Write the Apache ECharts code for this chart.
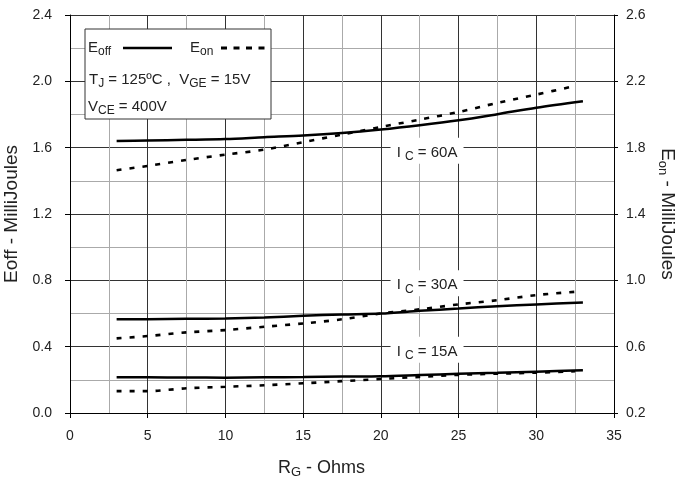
<!DOCTYPE html>
<html>
<head>
<meta charset="utf-8">
<script src="https://cdn.jsdelivr.net/npm/echarts@6/dist/echarts.min.js"></script>
<style>html,body{margin:0;padding:0;background:#fff}#c{width:680px;height:481px}</style>
</head>
<body>
<div id="c"></div>
<script>
// R_G (Ohms) sample points
const rgOff = [3, 5, 7.5, 10, 12.5, 15, 17.5, 20, 22.5, 25, 27.5, 30, 33];
const rgOn  = [3, 5, 7.5, 10, 12.5, 15, 17.5, 20, 22.5, 25, 27.5, 30, 32.5];
// Eoff (left axis, mJ)
const eoff60 = [1.640, 1.643, 1.647, 1.652, 1.663, 1.673, 1.688, 1.709, 1.735, 1.765, 1.802, 1.841, 1.880];
const eoff30 = [0.566, 0.566, 0.568, 0.570, 0.576, 0.586, 0.594, 0.600, 0.616, 0.630, 0.644, 0.655, 0.667];
const eoff15 = [0.215, 0.215, 0.214, 0.213, 0.215, 0.217, 0.220, 0.222, 0.229, 0.236, 0.242, 0.249, 0.258];
// Eon (right axis, mJ)
const eon60 = [1.664, 1.690, 1.726, 1.758, 1.788, 1.833, 1.879, 1.925, 1.969, 2.015, 2.070, 2.120, 2.172];
const eon30 = [0.650, 0.664, 0.686, 0.700, 0.720, 0.740, 0.765, 0.800, 0.825, 0.855, 0.880, 0.911, 0.931];
const eon15 = [0.332, 0.332, 0.349, 0.358, 0.367, 0.379, 0.392, 0.405, 0.418, 0.430, 0.437, 0.443, 0.452];
// current labels: [RG, Eoff-axis value, text]
const icLabels = [[23.1, 1.6, '60A'], [23.1, 0.8, '30A'], [23.1, 0.4, '15A']];
// axis ticks
const xTicks = {min: 0, max: 35, step: 5};
const yLeftTicks = {min: 0, max: 2.4, step: 0.4};
const yRightTicks = {min: 0.2, max: 2.6, step: 0.4};

const FONT = "'Liberation Sans', Arial, sans-serif";
const TXT = '#222';
const pair = (xs, ys) => xs.map((x, i) => [x, ys[i]]);

const solid = (name, xs, ys) => ({
  name, type: 'line', yAxisIndex: 0, data: pair(xs, ys), smooth: 0.3,
  symbol: 'none', lineStyle: {color: '#000', width: 2.5}, z: 3
});
const dashed = (name, xs, ys) => ({
  name, type: 'line', yAxisIndex: 1, data: pair(xs, ys), smooth: 0.3,
  symbol: 'none', lineStyle: {color: '#000', width: 2.6, type: [5, 8]}, z: 3
});
const sub = {fontSize: 12, color: TXT, fill: TXT, fontFamily: FONT, padding: [8, 0, 0, 0]};
const nrm = (s) => ({fontSize: s, color: TXT, fill: TXT, fontFamily: FONT});

const chart = echarts.init(document.getElementById('c'));
chart.setOption({
  animation: false,
  backgroundColor: '#fff',
  textStyle: {fontFamily: FONT},
  grid: {left: 70, right: 66, top: 15, bottom: 68, containLabel: false, outerBoundsMode: 'none'},
  xAxis: {
    type: 'value', min: xTicks.min, max: xTicks.max, interval: xTicks.step,
    axisLine: {lineStyle: {color: '#000', width: 1}},
    axisTick: {show: true, inside: false, length: 5, lineStyle: {color: '#000'}},
    axisLabel: {color: TXT, fontSize: 14, fontFamily: FONT, margin: 16},
    splitLine: {show: true, lineStyle: {color: '#333', width: 1}},
    minorTick: {show: false, splitNumber: 2},
    minorSplitLine: {show: true, lineStyle: {color: '#aaa', width: 1}}
  },
  yAxis: [{
    type: 'value', position: 'left', min: yLeftTicks.min, max: yLeftTicks.max, interval: yLeftTicks.step,
    name: 'Eoff - MilliJoules', nameLocation: 'middle', nameRotate: 90, nameGap: 40,
    nameTextStyle: {color: TXT, fontSize: 19, fontFamily: FONT},
    axisLine: {show: true, lineStyle: {color: '#000'}},
    axisTick: {show: true, length: 5, lineStyle: {color: '#000'}},
    axisLabel: {color: TXT, fontSize: 14, fontFamily: FONT, margin: 18, formatter: v => v.toFixed(1)},
    splitLine: {show: true, lineStyle: {color: '#333', width: 1}},
    minorTick: {show: false, splitNumber: 2},
    minorSplitLine: {show: true, lineStyle: {color: '#aaa', width: 1}}
  }, {
    type: 'value', position: 'right', min: yRightTicks.min, max: yRightTicks.max, interval: yRightTicks.step,
    name: '{n|E}{s|on}{n| - MilliJoules}', nameLocation: 'middle', nameRotate: -90, nameGap: 37,
    nameTextStyle: {color: TXT, fontFamily: FONT, rich: {n: nrm(19), s: Object.assign({}, sub, {fontSize: 13})}},
    axisLine: {show: true, lineStyle: {color: '#000'}},
    axisTick: {show: true, length: 4, lineStyle: {color: '#000'}},
    axisLabel: {color: TXT, fontSize: 14, fontFamily: FONT, margin: 12, formatter: v => v.toFixed(1)},
    splitLine: {show: false}
  }],
  series: [
    solid('Eoff 60A', rgOff, eoff60),
    solid('Eoff 30A', rgOff, eoff30),
    solid('Eoff 15A', rgOff, eoff15),
    dashed('Eon 60A', rgOn, eon60),
    dashed('Eon 30A', rgOn, eon30),
    dashed('Eon 15A', rgOn, eon15),
    {
      type: 'scatter', yAxisIndex: 0, symbol: 'rect', symbolSize: [73, 26], symbolOffset: [-2, 3],
      itemStyle: {color: '#fff', opacity: 1}, z: 4, silent: true,
      data: icLabels.map(d => ({value: [d[0], d[1]], txt: d[2]})),
      label: {
        show: true, position: 'inside', offset: [0, 2], color: TXT, opacity: 1,
        formatter: p => '{n|I }{s|C}{n| = ' + p.data.txt + '}',
        rich: {n: nrm(15), s: sub}
      }
    }
  ],
  graphic: [
    {type: 'rect', shape: {x: 85, y: 29, width: 186, height: 90}, style: {fill: '#fff', stroke: '#333', lineWidth: 1}, z: 10},
    {type: 'text', x: 88, y: 48, z: 11, style: {text: '{n|E}{s|off}', verticalAlign: 'middle', rich: {n: nrm(15), s: sub}}},
    {type: 'line', z: 11, shape: {x1: 123, y1: 48, x2: 172, y2: 48}, style: {stroke: '#000', lineWidth: 2.5}},
    {type: 'text', x: 190, y: 48, z: 11, style: {text: '{n|E}{s|on}', verticalAlign: 'middle', rich: {n: nrm(15), s: sub}}},
    {type: 'line', z: 11, shape: {x1: 221, y1: 48, x2: 269, y2: 48}, style: {stroke: '#000', lineWidth: 2.8, lineDash: [6, 6.5]}},
    {type: 'text', x: 89, y: 80, z: 11, style: {text: '{n|T}{s|J}{n| = 125ºC ,  V}{s|GE}{n| = 15V}', verticalAlign: 'middle', rich: {n: nrm(15), s: sub}}},
    {type: 'text', x: 88, y: 107, z: 11, style: {text: '{n|V}{s|CE}{n| = 400V}', verticalAlign: 'middle', rich: {n: nrm(15), s: sub}}},
    {type: 'text', x: 278, y: 468, style: {text: '{n|R}{s|G}{n| - Ohms}', verticalAlign: 'middle', rich: {n: nrm(18), s: Object.assign({}, sub, {fontSize: 13})}}}
  ]
});
</script>
</body>
</html>
